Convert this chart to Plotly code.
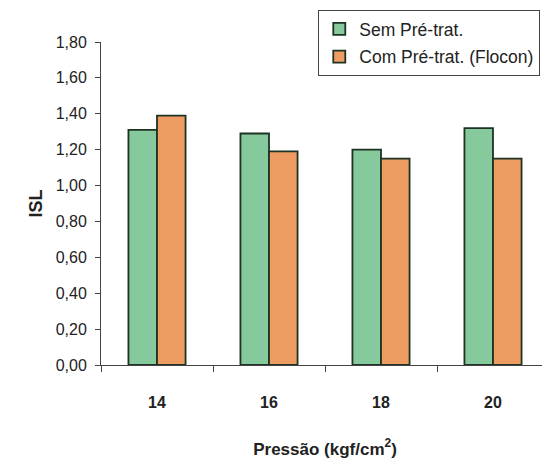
import plotly.graph_objects as go

categories = ["14", "16", "18", "20"]
sem_pre = [1.31, 1.29, 1.20, 1.32]
com_pre = [1.39, 1.19, 1.15, 1.15]
series_names = ["Sem Pré-trat.", "Com Pré-trat. (Flocon)"]
y_ticks = [0, 0.2, 0.4, 0.6, 0.8, 1.0, 1.2, 1.4, 1.6, 1.8]

FONT = "Liberation Sans, Arial, sans-serif"
edge = dict(color="#1c3324", width=1.8)

fig = go.Figure()
fig.add_trace(go.Bar(x=categories, y=sem_pre, name=series_names[0], legendgroup="a",
                     marker=dict(color="#86c99c", line=edge)))
fig.add_trace(go.Bar(x=categories, y=com_pre, name=series_names[1], legendgroup="b",
                     marker=dict(color="#ee9c62", line=edge)))

# page body adds an 8px margin, so the figure is 8px smaller than the window
fig.update_layout(
    width=542, height=455,
    margin=dict(l=93, r=1, t=34, b=98, autoexpand=False),
    paper_bgcolor="white", plot_bgcolor="white",
    separators=",.",
    barmode="group", bargap=0.49, bargroupgap=0,
    font=dict(family=FONT, size=15, color="#222"),
    showlegend=True,
    legend=dict(x=0.485, y=1.099, xanchor="left", yanchor="top",
                bordercolor="#444", borderwidth=1, bgcolor="white",
                font=dict(size=17.5, color="#222"),
                itemwidth=30, tracegroupgap=2),
    xaxis=dict(type="category", showline=True, linecolor="#444", linewidth=1,
               automargin=False,
               ticks="outside", tickson="boundaries", ticklen=6, tickcolor="#444",
               tickfont=dict(size=16, color="#222", family=FONT, weight="bold"),
               ticklabelstandoff=23,
               title=dict(text="<b>Pressão (kgf/cm<sup>2</sup>)</b>",
                          font=dict(size=17, color="#222"), standoff=32),
               showgrid=False),
    yaxis=dict(range=[0, 1.8], tickvals=y_ticks, tickformat=".2f",
               automargin=False,
               showline=True, linecolor="#444", linewidth=1,
               ticks="outside", ticklen=5, tickcolor="#444",
               tickfont=dict(size=16, color="#222"),
               ticklabelstandoff=5,
               title=dict(text="<b>ISL</b>", font=dict(size=18, color="#222"), standoff=8),
               showgrid=False, zeroline=False),
)

fig.write_html("out.html")
